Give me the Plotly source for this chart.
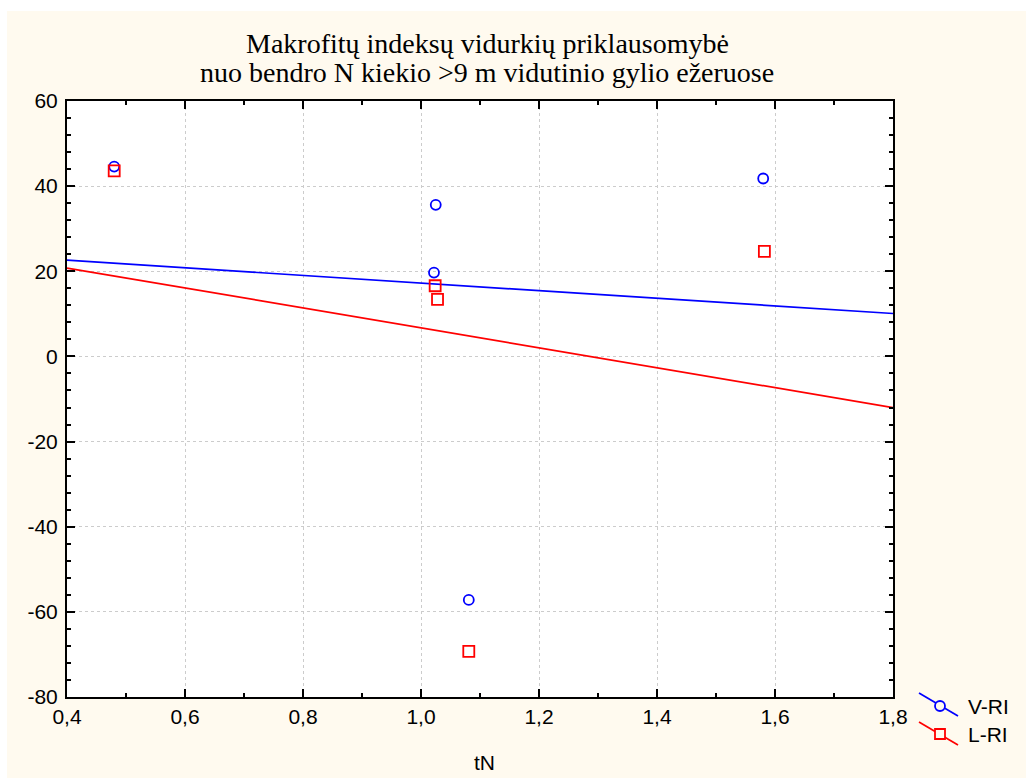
import numpy as np
import plotly.graph_objects as go

# ---- data ----
x_v = [0.48, 1.025, 1.022, 1.580, 1.081]
y_v = [44.6, 35.6, 19.7, 41.8, -57.2]
x_l = [0.48, 1.024, 1.028, 1.582, 1.081]
y_l = [43.6, 16.6, 13.4, 24.7, -69.3]
series_names = ["V-RI", "L-RI"]
x_ticks = [0.4, 0.6, 0.8, 1.0, 1.2, 1.4, 1.6, 1.8]
x_ticklabels = ["0,4", "0,6", "0,8", "1,0", "1,2", "1,4", "1,6", "1,8"]
y_ticks = [-80, -60, -40, -20, 0, 20, 40, 60]
y_ticklabels = ["-80", "-60", "-40", "-20", "0", "20", "40", "60"]
title_lines = ["Makrofitų indeksų vidurkių priklausomybė",
               "nuo bendro N kiekio >9 m vidutinio gylio ežeruose"]
x_title = "tN"
x_range = [0.4, 1.8]
y_range = [-80, 60]

W, H = 1028, 778
L, R, T, B = 67, 893, 101, 697
pw, ph = R - L, B - T


def px(xp):
    return (xp - L) / pw


def py(yp):
    return (B - yp) / ph


BLUE = "#0000ff"
RED = "#ff0000"
CREAM = "#fffaef"
SANS = "Liberation Sans, Arial, sans-serif"
SERIF = "Liberation Serif, Times New Roman, serif"

fig = go.Figure()

# regression lines (OLS fit through the points)
xs = np.array(x_range)
cv = np.polyfit(x_v, y_v, 1)
cl = np.polyfit(x_l, y_l, 1)
fig.add_trace(go.Scatter(x=xs, y=np.polyval(cv, xs), mode="lines",
                         line=dict(color=BLUE, width=1.7), showlegend=False, hoverinfo="skip"))
fig.add_trace(go.Scatter(x=xs, y=np.polyval(cl, xs), mode="lines",
                         line=dict(color=RED, width=1.7), showlegend=False, hoverinfo="skip"))

fig.add_trace(go.Scatter(x=x_v, y=y_v, mode="markers", name=series_names[0],
                         marker=dict(symbol="circle-open", size=10, color=BLUE,
                                     line=dict(width=1.8, color=BLUE)), showlegend=False))
fig.add_trace(go.Scatter(x=x_l, y=y_l, mode="markers", name=series_names[1],
                         marker=dict(symbol="square-open", size=11, color=RED,
                                     line=dict(width=1.8, color=RED)), showlegend=False))

axis_common = dict(
    showline=True, linecolor="black", linewidth=2, mirror="ticks",
    ticks="inside", ticklen=8, tickwidth=1.5, tickcolor="black",
    showgrid=True, gridcolor="#cccccc", griddash="dot", gridwidth=1,
    zeroline=False,
    tickfont=dict(family=SANS, size=21, color="black"),
)

fig.update_xaxes(range=x_range, tickmode="array", tickvals=x_ticks, ticktext=x_ticklabels,
                 minor=dict(ticks="inside", ticklen=4, tickwidth=1.5, tickcolor="black",
                            dtick=0.1, tick0=0.4, showgrid=False),
                 **axis_common)
fig.update_yaxes(range=y_range, tickmode="array", tickvals=y_ticks, ticktext=y_ticklabels,
                 ticklabelstandoff=3,
                 minor=dict(ticks="inside", ticklen=4, tickwidth=1.5, tickcolor="black",
                            dtick=4, tick0=-80, showgrid=False),
                 **axis_common)

shapes = []
# white strips around the cream page
shapes.append(dict(type="rect", xref="paper", yref="paper", x0=px(0), x1=px(W), y0=py(11), y1=py(0),
                   fillcolor="white", line=dict(width=0), layer="above"))
shapes.append(dict(type="rect", xref="paper", yref="paper", x0=px(0), x1=px(7), y0=py(H), y1=py(0),
                   fillcolor="white", line=dict(width=0), layer="above"))
shapes.append(dict(type="rect", xref="paper", yref="paper", x0=px(1026), x1=px(W), y0=py(H), y1=py(0),
                   fillcolor="white", line=dict(width=0), layer="above"))

# manual legend symbols
shapes.append(dict(type="line", xref="paper", yref="paper", x0=px(919), y0=py(693), x1=px(958), y1=py(716),
                   line=dict(color=BLUE, width=1.7)))
shapes.append(dict(type="circle", xref="paper", yref="paper", x0=px(935), y0=py(701), x1=px(945), y1=py(711),
                   line=dict(color=BLUE, width=1.8), fillcolor=CREAM))
shapes.append(dict(type="line", xref="paper", yref="paper", x0=px(919), y0=py(722), x1=px(958), y1=py(745),
                   line=dict(color=RED, width=1.7)))
shapes.append(dict(type="rect", xref="paper", yref="paper", x0=px(935), y0=py(729), x1=px(945), y1=py(739),
                   line=dict(color=RED, width=1.8), fillcolor=CREAM))

annotations = [
    dict(text=title_lines[0], xref="paper", yref="paper", x=px(487), y=py(43), xanchor="center", yanchor="middle",
         showarrow=False, font=dict(family=SERIF, size=28, color="black")),
    dict(text=title_lines[1], xref="paper", yref="paper", x=px(487), y=py(73), xanchor="center", yanchor="middle",
         showarrow=False, font=dict(family=SERIF, size=28, color="black")),
    dict(text=x_title, xref="paper", yref="paper", x=px(484), y=py(762), xanchor="center", yanchor="middle",
         showarrow=False, font=dict(family=SANS, size=21, color="black")),
    dict(text=series_names[0], xref="paper", yref="paper", x=px(966), y=py(706), xanchor="left", yanchor="middle",
         showarrow=False, font=dict(family=SANS, size=21, color="black")),
    dict(text=series_names[1], xref="paper", yref="paper", x=px(966), y=py(734), xanchor="left", yanchor="middle",
         showarrow=False, font=dict(family=SANS, size=21, color="black")),
]

fig.update_layout(
    width=W, height=H,
    margin=dict(l=L, r=W - R, t=T, b=H - B, pad=0),
    paper_bgcolor=CREAM, plot_bgcolor="white",
    showlegend=False,
    shapes=shapes, annotations=annotations,
)

fig.write_html("out.html")
